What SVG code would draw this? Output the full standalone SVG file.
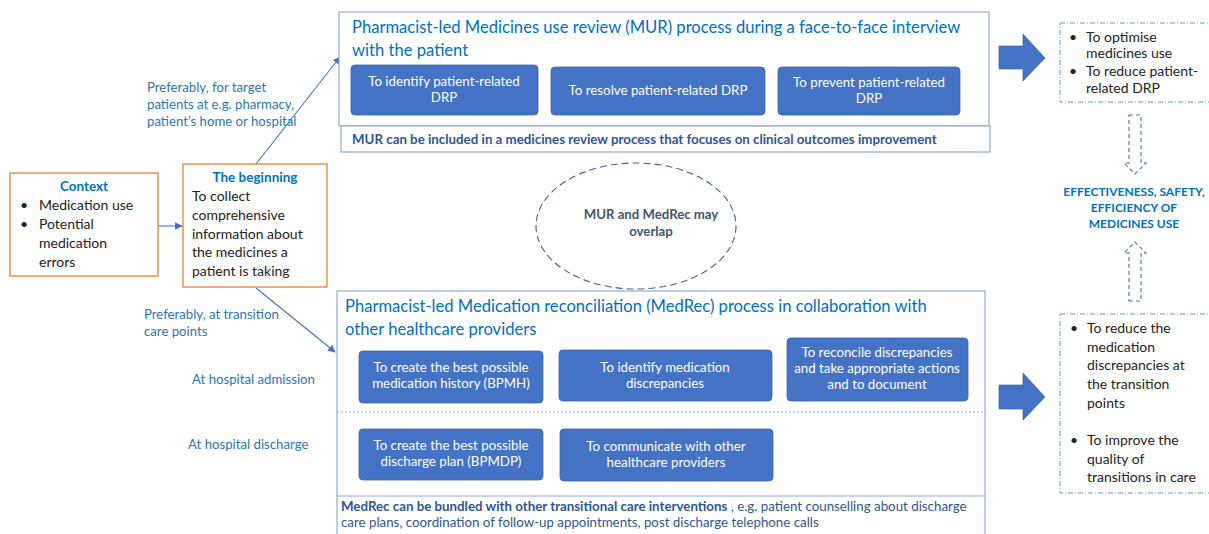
<svg xmlns="http://www.w3.org/2000/svg" width="1209" height="534" viewBox="0 0 1209 534">
  <defs>
    <marker id="tip" viewBox="0 0 10 10" refX="9" refY="5" markerWidth="7" markerHeight="7" orient="auto-start-reverse">
      <path d="M0,0 L10,5 L0,10 z" fill="#4472C4"/>
    </marker>
    <style>
      text { font-family: "Lato", "Liberation Sans", sans-serif; }
      .frame { fill: #fff; stroke: #8FAADC; stroke-width: 1.2; }
      .orange { fill: #fff; stroke: #ED7D31; stroke-width: 1.3; }
      .task { fill: #4472C4; stroke: #3A62AC; stroke-width: 0.8; }
      .task-t { fill: #fff; font-size: 13.3px; text-anchor: middle; }
      .title { fill: #0070C0; font-size: 16.6px; }
      .note { fill: #2E75B6; font-size: 13.2px; }
      .body { fill: #222; font-size: 14px; }
      .head { fill: #0070C0; font-size: 13.5px; font-weight: bold; text-anchor: middle; }
      .dark { fill: #2F5597; font-size: 13.3px; }
      .outcome { fill: #fff; stroke: #5B9BD5; stroke-width: 1; stroke-dasharray: 5 2 1 2; }
      .link { stroke: #4472C4; stroke-width: 1.1; fill: none; marker-end: url(#tip); }
      .big { fill: #4472C4; stroke: #2F5597; stroke-width: 0.6; }
      .hollow { fill: none; stroke: #4472C4; stroke-width: 1.1; stroke-dasharray: 4 3; }
      .overlap-t { fill: #44546A; font-size: 13.2px; font-weight: bold; text-anchor: middle; }
    </style>
  </defs>

  <!-- connectors -->
  <g id="connectors">
    <line class="link" x1="158" y1="226" x2="182" y2="226"/>
    <line class="link" x1="256" y1="164" x2="340" y2="57"/>
    <line class="link" x1="256" y1="288" x2="335" y2="352"/>
    <!-- block arrows toward outcomes -->
    <path class="big" d="M999,46 H1023 V34 L1045,58 L1023,81 V69 H999 z"/>
    <path class="big" d="M999,385 H1023 V373 L1045,397 L1023,420 V409 H999 z"/>
    <!-- hollow dashed arrows toward the overall goal -->
    <path class="hollow" d="M1129,115 H1141 V163 H1146 L1135,174 L1124,163 H1129 z"/>
    <path class="hollow" d="M1129,301 H1141 V253 H1146 L1135,242 L1124,253 H1129 z"/>
  </g>

  <!-- context -->
  <g id="context">
    <rect class="orange" x="10" y="173" width="148" height="103"/>
    <text class="head" x="84" y="191">Context</text>
    <text class="body" x="20" y="210">•</text>
    <text class="body" x="39" y="210">Medication use</text>
    <text class="body" x="20" y="229">•</text>
    <text class="body" x="39" y="229">Potential</text>
    <text class="body" x="39" y="248">medication</text>
    <text class="body" x="39" y="267">errors</text>
  </g>

  <!-- the beginning -->
  <g id="beginning">
    <rect class="orange" x="183" y="164" width="144" height="123"/>
    <text class="head" x="255" y="182">The beginning</text>
    <text class="body" x="192" y="201">To collect</text>
    <text class="body" x="192" y="220">comprehensive</text>
    <text class="body" x="192" y="239">information about</text>
    <text class="body" x="192" y="257">the medicines a</text>
    <text class="body" x="192" y="276">patient is taking</text>
  </g>

  <!-- edge labels -->
  <g id="labels">
    <text class="note" x="147" y="92">Preferably, for target</text>
    <text class="note" x="147" y="109">patients at e.g. pharmacy,</text>
    <text class="note" x="147" y="126">patient’s home or hospital</text>
    <text class="note" x="144" y="319">Preferably, at transition</text>
    <text class="note" x="144" y="336">care points</text>
    <text class="note" x="192" y="384">At hospital admission</text>
    <text class="note" x="188" y="449">At hospital discharge</text>
  </g>

  <!-- MUR process -->
  <g id="mur">
    <rect class="frame" x="339" y="12" width="650" height="114"/>
    <text class="title" x="352" y="33">Pharmacist-led Medicines use review (MUR) process during a face-to-face interview</text>
    <text class="title" x="352" y="56">with the patient</text>
    <rect class="task" x="351" y="65" width="187" height="50" rx="4"/>
    <text class="task-t" x="444" y="86">To identify patient-related</text>
    <text class="task-t" x="444" y="102">DRP</text>
    <rect class="task" x="551" y="67" width="214" height="48" rx="4"/>
    <text class="task-t" x="658" y="95">To resolve patient-related DRP</text>
    <rect class="task" x="778" y="67" width="182" height="48" rx="4"/>
    <text class="task-t" x="869" y="87">To prevent patient-related</text>
    <text class="task-t" x="869" y="103">DRP</text>
    <rect class="frame" x="341" y="126" width="649" height="26"/>
    <text class="dark" x="352" y="144" font-weight="bold">MUR can be included in a medicines review process that focuses on clinical outcomes improvement</text>
  </g>

  <!-- overlap -->
  <g id="overlap">
    <ellipse cx="636" cy="226" rx="100" ry="63" fill="none" stroke="#4A5F8A" stroke-width="1.1" stroke-dasharray="7 4"/>
    <text class="overlap-t" x="651" y="219">MUR and MedRec may</text>
    <text class="overlap-t" x="651" y="236">overlap</text>
  </g>

  <!-- MedRec process -->
  <g id="medrec">
    <rect class="frame" x="337" y="291" width="648" height="250"/>
    <line x1="337" y1="412" x2="985" y2="412" stroke="#8FAADC" stroke-width="1" stroke-dasharray="2 2"/>
    <line x1="337" y1="496" x2="985" y2="496" stroke="#8FAADC" stroke-width="1.2"/>
    <text class="title" x="345" y="312">Pharmacist-led Medication reconciliation (MedRec) process in collaboration with</text>
    <text class="title" x="345" y="335">other healthcare providers</text>
    <rect class="task" x="359" y="351" width="184" height="52" rx="4"/>
    <text class="task-t" x="451" y="372">To create the best possible</text>
    <text class="task-t" x="451" y="388">medication history (BPMH)</text>
    <rect class="task" x="559" y="350" width="213" height="51" rx="4"/>
    <text class="task-t" x="665" y="372">To identify medication</text>
    <text class="task-t" x="665" y="388">discrepancies</text>
    <rect class="task" x="787" y="338" width="181" height="63" rx="4"/>
    <text class="task-t" x="877" y="357">To reconcile discrepancies</text>
    <text class="task-t" x="877" y="373">and take appropriate actions</text>
    <text class="task-t" x="877" y="389">and to document</text>
    <rect class="task" x="359" y="429" width="184" height="51" rx="4"/>
    <text class="task-t" x="451" y="450">To create the best possible</text>
    <text class="task-t" x="451" y="466">discharge plan (BPMDP)</text>
    <rect class="task" x="560" y="429" width="213" height="52" rx="4"/>
    <text class="task-t" x="666" y="451">To communicate with other</text>
    <text class="task-t" x="666" y="467">healthcare providers</text>
    <text class="dark" x="341" y="511"><tspan font-weight="bold">MedRec can be bundled with other transitional care interventions</tspan><tspan> , e.g. patient counselling about discharge</tspan></text>
    <text class="dark" x="341" y="527">care plans, coordination of follow-up appointments, post discharge telephone calls</text>
  </g>

  <!-- MUR outcomes -->
  <g id="mur-outcomes">
    <rect class="outcome" x="1060" y="23" width="152" height="79"/>
    <text class="body" font-size="13" x="1069" y="42">•</text>
    <text class="body" font-size="13" x="1086" y="42">To optimise</text>
    <text class="body" font-size="13" x="1086" y="58">medicines use</text>
    <text class="body" font-size="13" x="1069" y="76">•</text>
    <text class="body" font-size="13" x="1086" y="76">To reduce patient-</text>
    <text class="body" font-size="13" x="1086" y="93">related DRP</text>
  </g>

  <!-- overall goal -->
  <g id="goal">
    <text x="1134" y="196" fill="#0070C0" font-size="12" font-weight="bold" text-anchor="middle">EFFECTIVENESS, SAFETY,</text>
    <text x="1134" y="212" fill="#0070C0" font-size="12" font-weight="bold" text-anchor="middle">EFFICIENCY OF</text>
    <text x="1134" y="228" fill="#0070C0" font-size="12" font-weight="bold" text-anchor="middle">MEDICINES USE</text>
  </g>

  <!-- MedRec outcomes -->
  <g id="medrec-outcomes">
    <rect class="outcome" x="1060" y="314" width="152" height="179"/>
    <text class="body" x="1070" y="333">•</text>
    <text class="body" x="1087" y="333">To reduce the</text>
    <text class="body" x="1087" y="352">medication</text>
    <text class="body" x="1087" y="370">discrepancies at</text>
    <text class="body" x="1087" y="389">the transition</text>
    <text class="body" x="1087" y="408">points</text>
    <text class="body" x="1070" y="445">•</text>
    <text class="body" x="1087" y="445">To improve the</text>
    <text class="body" x="1087" y="464">quality of</text>
    <text class="body" x="1087" y="482">transitions in care</text>
  </g>
</svg>
